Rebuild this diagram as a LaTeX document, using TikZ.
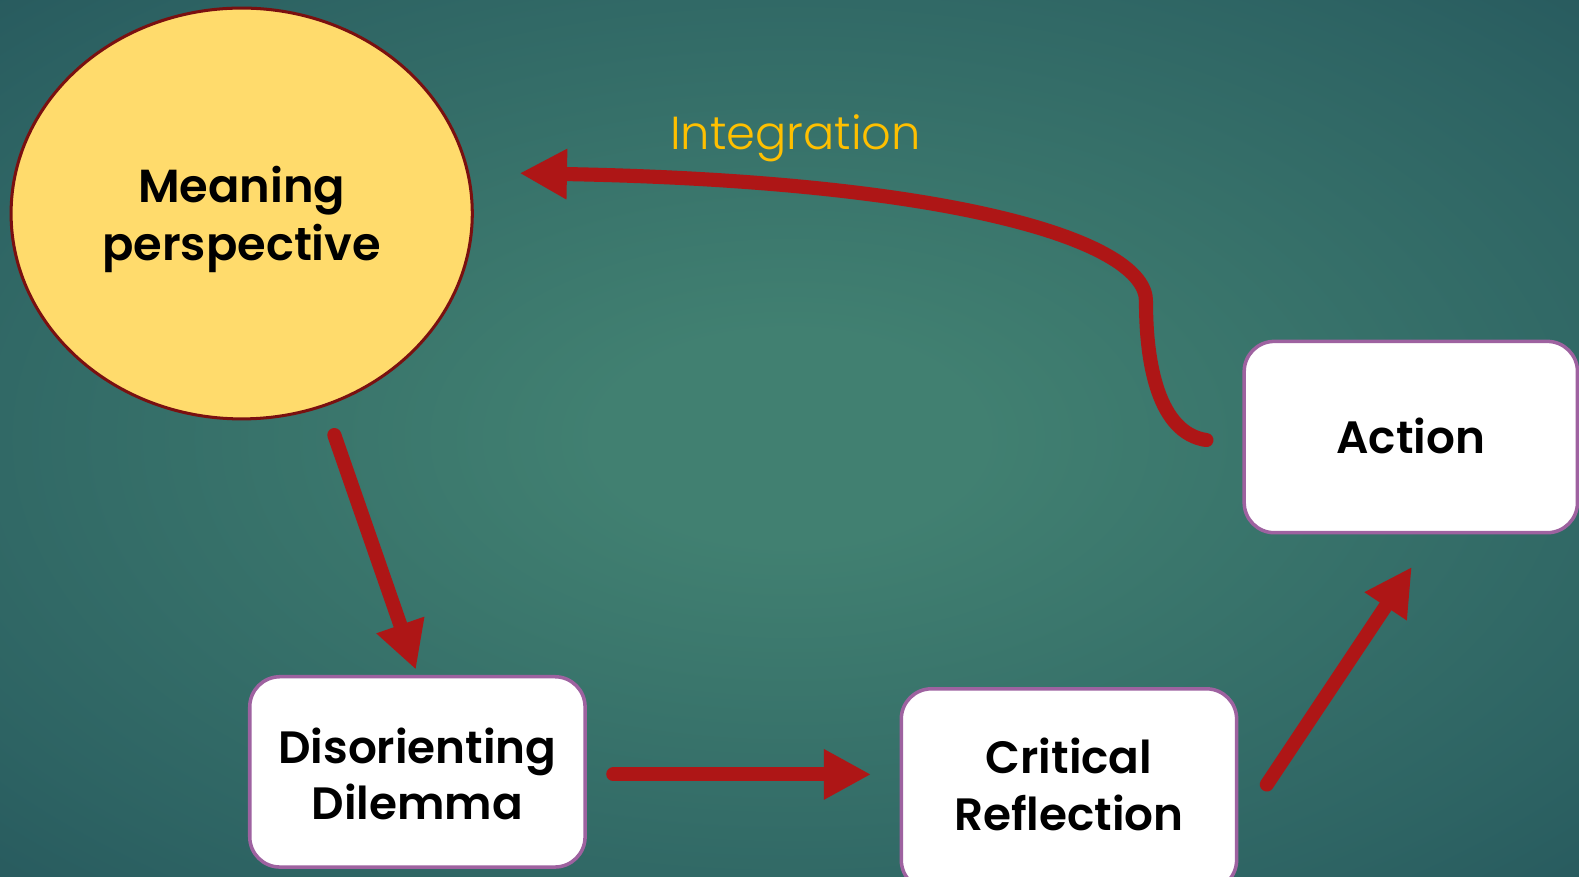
\documentclass[tikz,border=0pt]{standalone}
\usepackage{fontspec}
\setmainfont{Poppins}[BoldFont={Poppins SemiBold}]
\newfontfamily\lightfont{Poppins Light}
\usetikzlibrary{arrows.meta,shapes.geometric}
\definecolor{bgin}{HTML}{418071}
\definecolor{bgmid}{HTML}{2D6363}
\definecolor{bgout}{HTML}{1A4452}
\definecolor{arrred}{HTML}{AE1616}
\definecolor{ellfill}{HTML}{FFDB6C}
\definecolor{ellline}{HTML}{7A1010}
\definecolor{boxline}{HTML}{9E62A0}
\definecolor{gold}{HTML}{FFC000}
\pgfdeclareradialshading{bgshade}{\pgfpoint{0bp}{0bp}}{color(0bp)=(bgin); color(6bp)=(bgin); color(30bp)=(bgmid); color(52bp)=(bgout); color(72bp)=(bgout)}
\newcommand{\lowered}[2]{\raisebox{-#1}[\height][\depth]{#2}}
\tikzset{
  stagebox/.style={draw=boxline, line width=3.5pt, fill=white, rounded corners=30pt,
    font=\bfseries\fontsize{45}{56}\selectfont, align=center, inner sep=0pt},
  flowarrow/.style={draw=arrred, line width=14pt, line cap=round,
    -{Triangle[length=47pt,width=47pt]}}
}
\begin{document}
\begin{tikzpicture}[x=1pt,y=-1pt]
\useasboundingbox (0,0) rectangle (1568,870);
\shade[shading=bgshade] (0,0) rectangle (1568,870);
% nodes
\node[ellipse, draw=ellline, line width=3pt, fill=ellfill, minimum width=458pt, minimum height=408pt,
  font=\bfseries\fontsize{46}{57}\selectfont, align=center, inner sep=0pt] (mp) at (240,212)
  {\lowered{6pt}{Meaning}\\\lowered{6pt}{perspective}};
\node[stagebox, minimum width=331pt, minimum height=190pt] (act) at (1401,434) {\lowered{-1pt}{Action}};
\node[stagebox, minimum width=333pt, minimum height=189pt] (dd) at (414.5,766.5)
  {\lowered{2pt}{Disorienting}\\\lowered{2pt}{Dilemma}};
\node[stagebox, minimum width=333pt, minimum height=200pt] (cr) at (1061.5,784)
  {\lowered{-5pt}{Critical}\\\lowered{-5pt}{Reflection}};
\node[font=\lightfont\fontsize{46}{56}\selectfont, text=gold, inner sep=0pt] (integ) at (790,137) {Integration};
% connector ends
\coordinate (a1s) at (332,432);
\coordinate (a1e) at (413,665);
\coordinate (a2s) at (609,769);
\coordinate (a2e) at (865,769);
\coordinate (a3s) at (1258,779);
\coordinate (a3e) at (1402,563);
\coordinate (a4s) at (1198,437);
\coordinate (a4m) at (1138,300);
\coordinate (a4e) at (516,172);
% connectors
\draw[flowarrow] (a1s) -- (a1e);
\draw[flowarrow] (a2s) -- (a2e);
\draw[flowarrow] (a3s) -- (a3e);
\draw[flowarrow] (a4s) .. controls (1150,430) and (1138,360) .. (a4m)
  .. controls (1140,240) and (950,180) .. (a4e);
\end{tikzpicture}
\end{document}
